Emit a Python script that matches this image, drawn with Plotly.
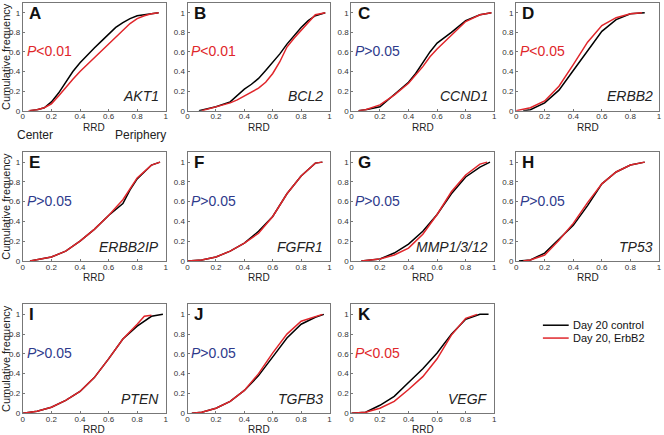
import plotly.graph_objects as go

# panel info
letters = ["A", "B", "C", "D", "E", "F", "G", "H", "I", "J", "K"]
genes = ["AKT1", "BCL2", "CCND1", "ERBB2", "ERBB2IP", "FGFR1", "MMP1/3/12", "TP53", "PTEN", "TGFB3", "VEGF"]
pvals = ["<0.01", "<0.01", ">0.05", "<0.05", ">0.05", ">0.05", ">0.05", ">0.05", ">0.05", ">0.05", "<0.05"]
series_names = ["Day 20 control", "Day 20, ErbB2"]

# RRD (x) and cumulative frequency (y)
ctrl_x = [
    [0.05, 0.1, 0.15, 0.2, 0.25, 0.3, 0.35, 0.4, 0.45, 0.5, 0.55, 0.6, 0.65, 0.7, 0.75, 0.8, 0.85, 0.9, 0.95],
    [0.08, 0.15, 0.2, 0.3, 0.35, 0.4, 0.45, 0.5, 0.55, 0.6, 0.65, 0.7, 0.75, 0.8, 0.85, 0.9, 0.97],
    [0.05, 0.1, 0.2, 0.3, 0.4, 0.45, 0.5, 0.55, 0.6, 0.7, 0.8, 0.9, 0.98],
    [0.05, 0.1, 0.2, 0.3, 0.4, 0.45, 0.5, 0.55, 0.6, 0.7, 0.8, 0.9],
    [0.05, 0.2, 0.3, 0.4, 0.5, 0.6, 0.7, 0.75, 0.8, 0.9, 0.96],
    [0.0, 0.1, 0.2, 0.3, 0.4, 0.5, 0.6, 0.7, 0.8, 0.9, 0.95],
    [0.07, 0.2, 0.3, 0.4, 0.5, 0.6, 0.7, 0.8, 0.9, 0.97],
    [0.02, 0.1, 0.2, 0.3, 0.4, 0.5, 0.6, 0.7, 0.8, 0.9],
    [0.0, 0.1, 0.2, 0.3, 0.4, 0.5, 0.6, 0.7, 0.8, 0.9, 0.98],
    [0.03, 0.1, 0.2, 0.3, 0.4, 0.5, 0.6, 0.7, 0.8, 0.9, 0.96],
    [0.0, 0.1, 0.2, 0.3, 0.4, 0.5, 0.6, 0.7, 0.8, 0.9, 0.96],
]
ctrl_y = [
    [0.0, 0.01, 0.03, 0.09, 0.18, 0.29, 0.40, 0.49, 0.57, 0.64, 0.71, 0.78, 0.85, 0.90, 0.94, 0.97, 0.98, 0.99, 1.0],
    [0.0, 0.02, 0.04, 0.09, 0.15, 0.22, 0.27, 0.33, 0.41, 0.49, 0.58, 0.68, 0.77, 0.85, 0.92, 0.97, 1.0],
    [0.0, 0.01, 0.04, 0.17, 0.29, 0.38, 0.49, 0.60, 0.69, 0.80, 0.92, 0.98, 1.0],
    [0.0, 0.01, 0.08, 0.21, 0.41, 0.51, 0.61, 0.71, 0.81, 0.93, 0.99, 1.0],
    [0.0, 0.04, 0.10, 0.20, 0.32, 0.46, 0.58, 0.72, 0.83, 0.97, 1.0],
    [0.0, 0.01, 0.04, 0.10, 0.18, 0.30, 0.45, 0.68, 0.86, 0.99, 1.0],
    [0.0, 0.02, 0.08, 0.17, 0.30, 0.47, 0.68, 0.85, 0.95, 1.0],
    [0.0, 0.01, 0.08, 0.22, 0.36, 0.56, 0.78, 0.90, 0.97, 1.0],
    [0.0, 0.02, 0.06, 0.13, 0.22, 0.36, 0.55, 0.75, 0.88, 0.98, 1.0],
    [0.0, 0.01, 0.05, 0.12, 0.23, 0.38, 0.57, 0.76, 0.90, 0.97, 1.0],
    [0.0, 0.01, 0.08, 0.17, 0.31, 0.45, 0.61, 0.80, 0.95, 1.0, 1.0],
]
erb_x = [
    [0.04, 0.1, 0.15, 0.2, 0.25, 0.3, 0.35, 0.4, 0.45, 0.5, 0.55, 0.6, 0.65, 0.7, 0.75, 0.8, 0.85, 0.9, 0.95],
    [0.1, 0.2, 0.3, 0.35, 0.4, 0.5, 0.55, 0.6, 0.65, 0.7, 0.75, 0.8, 0.85, 0.9, 0.97],
    [0.05, 0.1, 0.2, 0.3, 0.4, 0.45, 0.5, 0.55, 0.6, 0.7, 0.8, 0.9, 0.98],
    [0.0, 0.1, 0.2, 0.3, 0.4, 0.45, 0.5, 0.6, 0.7, 0.8, 0.88],
    [0.05, 0.2, 0.3, 0.4, 0.5, 0.6, 0.7, 0.8, 0.9, 0.96],
    [0.0, 0.1, 0.2, 0.3, 0.4, 0.5, 0.6, 0.7, 0.8, 0.9, 0.95],
    [0.07, 0.2, 0.3, 0.4, 0.5, 0.6, 0.7, 0.8, 0.9, 0.95],
    [0.05, 0.1, 0.2, 0.3, 0.4, 0.5, 0.6, 0.7, 0.8, 0.9],
    [0.0, 0.1, 0.2, 0.3, 0.4, 0.5, 0.6, 0.7, 0.8, 0.85, 0.9],
    [0.03, 0.1, 0.2, 0.3, 0.4, 0.5, 0.6, 0.7, 0.8, 0.9, 0.95],
    [0.0, 0.1, 0.2, 0.3, 0.4, 0.5, 0.6, 0.7, 0.8, 0.88],
]
erb_y = [
    [0.0, 0.01, 0.03, 0.07, 0.15, 0.24, 0.32, 0.40, 0.47, 0.54, 0.62, 0.69, 0.76, 0.83, 0.89, 0.94, 0.97, 0.99, 1.0],
    [0.0, 0.04, 0.08, 0.11, 0.15, 0.23, 0.29, 0.38, 0.50, 0.65, 0.74, 0.82, 0.90, 0.98, 1.0],
    [0.0, 0.01, 0.06, 0.16, 0.28, 0.36, 0.45, 0.55, 0.63, 0.77, 0.91, 0.98, 1.0],
    [0.0, 0.03, 0.10, 0.25, 0.47, 0.59, 0.70, 0.87, 0.95, 0.99, 1.0],
    [0.0, 0.04, 0.10, 0.20, 0.32, 0.46, 0.62, 0.84, 0.97, 1.0],
    [0.0, 0.01, 0.04, 0.10, 0.18, 0.28, 0.45, 0.68, 0.86, 0.99, 1.0],
    [0.0, 0.02, 0.06, 0.13, 0.27, 0.47, 0.70, 0.87, 0.98, 1.0],
    [0.0, 0.01, 0.06, 0.21, 0.38, 0.59, 0.78, 0.90, 0.97, 1.0],
    [0.0, 0.02, 0.06, 0.13, 0.22, 0.36, 0.55, 0.75, 0.90, 0.98, 0.99],
    [0.0, 0.01, 0.05, 0.12, 0.23, 0.40, 0.61, 0.80, 0.93, 0.98, 1.0],
    [0.0, 0.01, 0.05, 0.12, 0.24, 0.37, 0.55, 0.79, 0.96, 1.0],
]

RED = "#e0262b"
BLUE = "#2e3a8c"
FONT = "Arial, Liberation Sans, sans-serif"
W, H = 664, 435

col_px = [(21, 165), (187, 330), (352, 496), (518, 662)]
row_px = [(3, 112), (154, 264), (308, 418)]

fig = go.Figure()
layout = dict(
    width=W, height=H, margin=dict(l=0, r=0, t=0, b=0),
    paper_bgcolor="white", plot_bgcolor="white",
    font=dict(family=FONT, color="#222"),
    showlegend=False,
)
annotations = []
shapes = []

for i in range(11):
    r, c = divmod(i, 4)
    n = i + 1
    xa = "xaxis" if n == 1 else f"xaxis{n}"
    ya = "yaxis" if n == 1 else f"yaxis{n}"
    xr = "x" if n == 1 else f"x{n}"
    yr = "y" if n == 1 else f"y{n}"
    x0, x1 = col_px[c]
    y0, y1 = row_px[r]
    layout[xa] = dict(
        domain=[x0 / W, x1 / W], range=[0, 1], anchor=yr,
        tickvals=[0, 0.2, 0.4, 0.6, 0.8, 1], ticktext=["0", "0.2", "0.4", "0.6", "0.8", "1"],
        tickfont=dict(size=8, color="#333"), ticks="inside", ticklen=2, tickcolor="#777",
        ticklabelstandoff=-2,
        showline=True, linecolor="#777", linewidth=1, mirror=True, showgrid=False, zeroline=False,
    )
    layout[ya] = dict(
        domain=[1 - y1 / H, 1 - y0 / H], range=[0, 1.1], anchor=xr,
        tickvals=[0, 0.2, 0.4, 0.6, 0.8, 1], ticktext=["0", "0.2", "0.4", "0.6", "0.8", "1"],
        tickfont=dict(size=8, color="#333"), ticks="inside", ticklen=2, tickcolor="#777",
        showline=True, linecolor="#777", linewidth=1, mirror=True, showgrid=False, zeroline=False,
    )
    if c == 0:
        layout[ya]["title"] = dict(text="Cumulative frequency", font=dict(size=11, color="#222"), standoff=1)

    fig.add_trace(go.Scatter(x=ctrl_x[i], y=ctrl_y[i], mode="lines", xaxis=xr, yaxis=yr,
                             line=dict(color="black", width=1.5), name=series_names[0]))
    fig.add_trace(go.Scatter(x=erb_x[i], y=erb_y[i], mode="lines", xaxis=xr, yaxis=yr,
                             line=dict(color=RED, width=1.5), name=series_names[1]))

    # x-axis label placed close under the tick labels
    annotations.append(dict(xref=f"{xr} domain", yref=f"{yr} domain", x=0.5, y=0,
                            xanchor="center", yanchor="top", yshift=-9, showarrow=False,
                            text="RRD", font=dict(size=10, color="#222")))
    pcol = RED if pvals[i].startswith("<") else BLUE
    annotations.append(dict(xref=f"{xr} domain", yref=f"{yr} domain", x=0.03, y=1.01,
                            xanchor="left", yanchor="top", showarrow=False,
                            text=f"<b>{letters[i]}</b>", font=dict(size=17, color="#111")))
    annotations.append(dict(xref=f"{xr} domain", yref=f"{yr} domain", x=0.012, y=0.55,
                            xanchor="left", yanchor="middle", showarrow=False,
                            text=f"<i>P</i>{pvals[i].replace('<', '&lt;').replace('>', '&gt;')}",
                            font=dict(size=14, color=pcol)))
    annotations.append(dict(xref=f"{xr} domain", yref=f"{yr} domain", x=0.97, y=0.04,
                            xanchor="right", yanchor="bottom", showarrow=False,
                            text=f"<i>{genes[i]}</i>", font=dict(size=14, color="#222")))

annotations.append(dict(xref="paper", yref="paper", x=13 / W, y=1 - 137 / H, xanchor="left",
                        yanchor="middle", showarrow=False, text="Center",
                        font=dict(size=12, color="#222")))
annotations.append(dict(xref="paper", yref="paper", x=167 / W, y=1 - 137 / H, xanchor="right",
                        yanchor="middle", showarrow=False, text="Periphery",
                        font=dict(size=12, color="#222")))

# legend drawn by hand (tight line spacing like the original)
for k, (nm, col) in enumerate(zip(series_names, ["black", RED])):
    ly = 1 - (329 + 13 * k) / H
    shapes.append(dict(type="line", xref="paper", yref="paper", x0=545 / W, x1=571 / W,
                       y0=ly, y1=ly, line=dict(color=col, width=1.5)))
    annotations.append(dict(xref="paper", yref="paper", x=573 / W, y=ly, xanchor="left",
                            yanchor="middle", showarrow=False, text=nm,
                            font=dict(size=11, color="#111")))

layout["annotations"] = annotations
layout["shapes"] = shapes
fig.update_layout(**layout)
fig.write_html("out.html", config={"displayModeBar": False},
               post_script="document.body.style.margin='0';")
